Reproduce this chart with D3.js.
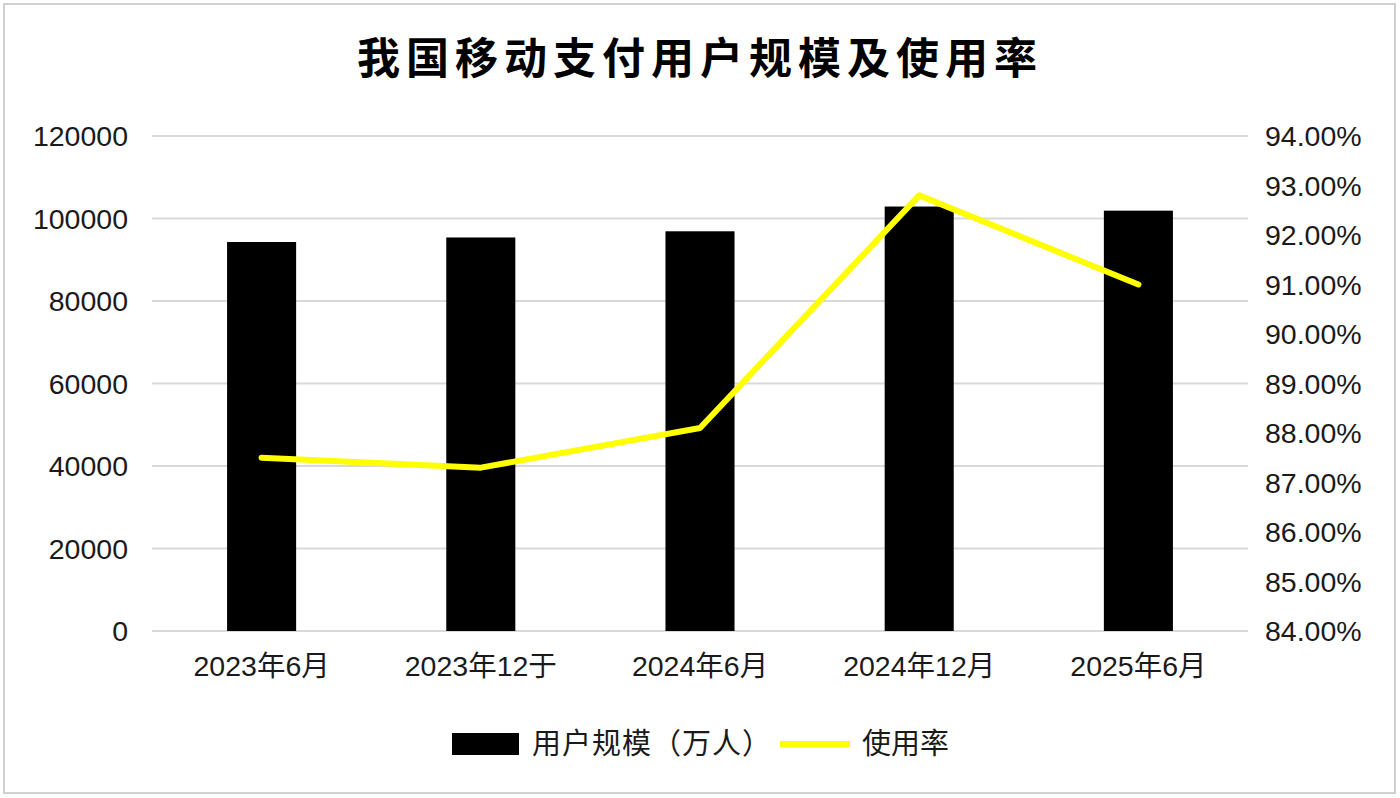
<!DOCTYPE html>
<html>
<head>
<meta charset="utf-8">
<script src="https://cdn.jsdelivr.net/npm/d3@7"></script>
<style>
  body { margin: 0; background: #fff; }
  text { font-family: "Liberation Sans", Arial, "Noto Sans CJK SC", sans-serif; fill: #1a1a1a; }
</style>
</head>
<body>
<svg id="chart" width="1400" height="798"></svg>
<script>
// data
var categories = ["2023年6月", "2023年12于", "2024年6月", "2024年12月", "2025年6月"];
var users = [94300, 95400, 96900, 102900, 101900];       // 用户规模（万人）
var rate = [87.5, 87.3, 88.1, 92.8, 91.0];                // 使用率 (%)
var leftTicks = [0, 20000, 40000, 60000, 80000, 100000, 120000];
var rightTicks = [84, 85, 86, 87, 88, 89, 90, 91, 92, 93, 94];

var svg = d3.select("#chart");
var margin = {left: 152, right: 152, top: 136, bottom: 167};
var width = 1400 - margin.left - margin.right;
var height = 798 - margin.top - margin.bottom;

// outer frame
svg.append("rect")
  .attr("x", 4).attr("y", 4)
  .attr("width", 1391).attr("height", 789)
  .attr("fill", "#fff")
  .attr("stroke", "#d0d0d0")
  .attr("stroke-width", 2);

svg.append("text")
  .attr("x", 700).attr("y", 74)
  .attr("text-anchor", "middle")
  .style("font-family", "'Noto Sans CJK SC', sans-serif")
  .style("font-weight", "bold")
  .style("font-size", "43px")
  .style("letter-spacing", "6px")
  .style("fill", "#000")
  .text("我国移动支付用户规模及使用率");

var g = svg.append("g")
  .attr("transform", "translate(" + margin.left + "," + margin.top + ")");

var x = d3.scaleBand().domain(categories).range([0, width]).paddingInner(0.685).paddingOuter(0.3425);
var xc = d3.scaleBand().domain(categories).range([0, width]);
var yL = d3.scaleLinear().domain([0, 120000]).range([height, 0]);
var yR = d3.scaleLinear().domain([84, 94]).range([height, 0]);

// gridlines
g.selectAll(".grid").data(leftTicks).enter()
  .append("line")
  .attr("class", "grid")
  .attr("x1", 0).attr("x2", width)
  .attr("y1", function(d){ return yL(d); })
  .attr("y2", function(d){ return yL(d); })
  .attr("stroke", "#d9d9d9")
  .attr("stroke-width", 2);

// left axis
var leftAxis = d3.axisLeft(yL).tickValues(leftTicks).tickSize(0).tickPadding(24)
  .tickFormat(function(d){ return d; });
g.append("g").attr("class", "yAxis").call(leftAxis)
  .call(function(a){ a.select(".domain").remove(); })
  .selectAll("text")
  .style("font-size", "28.5px")
  .attr("dy", "0.35em");

// right axis
var rightAxis = d3.axisRight(yR).tickValues(rightTicks).tickSize(0).tickPadding(117)
  .tickFormat(function(d){ return d.toFixed(2) + "%"; });
g.append("g").attr("class", "yAxisR")
  .attr("transform", "translate(" + (width - 100) + ",0)")
  .call(rightAxis)
  .call(function(a){ a.select(".domain").remove(); })
  .selectAll("text")
  .style("font-size", "28.5px")
  .attr("dy", "0.35em");

// x axis labels
var xAxis = d3.axisBottom(xc).tickSize(0).tickPadding(25);
g.append("g").attr("class", "xAxis")
  .attr("transform", "translate(0," + height + ")")
  .call(xAxis)
  .call(function(a){ a.select(".domain").remove(); })
  .selectAll("text")
  .style("font-size", "28.5px");

// bars
g.selectAll(".bar").data(users).enter()
  .append("rect")
  .attr("class", "bar")
  .attr("x", function(d, i){ return x(categories[i]); })
  .attr("width", x.bandwidth())
  .attr("y", function(d){ return yL(d); })
  .attr("height", function(d){ return height - yL(d); })
  .attr("fill", "#000");

// rate line
var line = d3.line()
  .x(function(d, i){ return xc(categories[i]) + xc.bandwidth() / 2; })
  .y(function(d){ return yR(d); });
g.append("path")
  .datum(rate)
  .attr("d", line)
  .attr("fill", "none")
  .attr("stroke", "#ffff00")
  .attr("stroke-width", 6)
  .attr("stroke-linejoin", "round")
  .attr("stroke-linecap", "round");

// legend
var legend = svg.append("g").attr("transform", "translate(0,744)");
legend.append("rect")
  .attr("x", 452).attr("y", -11)
  .attr("width", 67).attr("height", 22)
  .attr("fill", "#000");
legend.append("text")
  .attr("x", 532).attr("y", 0).attr("dy", "0.35em")
  .style("font-size", "29px")
  .style("letter-spacing", "1px")
  .text("用户规模（万人）");
legend.append("line")
  .attr("x1", 780).attr("x2", 850)
  .attr("y1", 0).attr("y2", 0)
  .attr("stroke", "#ffff00")
  .attr("stroke-width", 6);
legend.append("text")
  .attr("x", 862).attr("y", 0).attr("dy", "0.35em")
  .style("font-size", "29px")
  .text("使用率");
</script>
</body>
</html>
